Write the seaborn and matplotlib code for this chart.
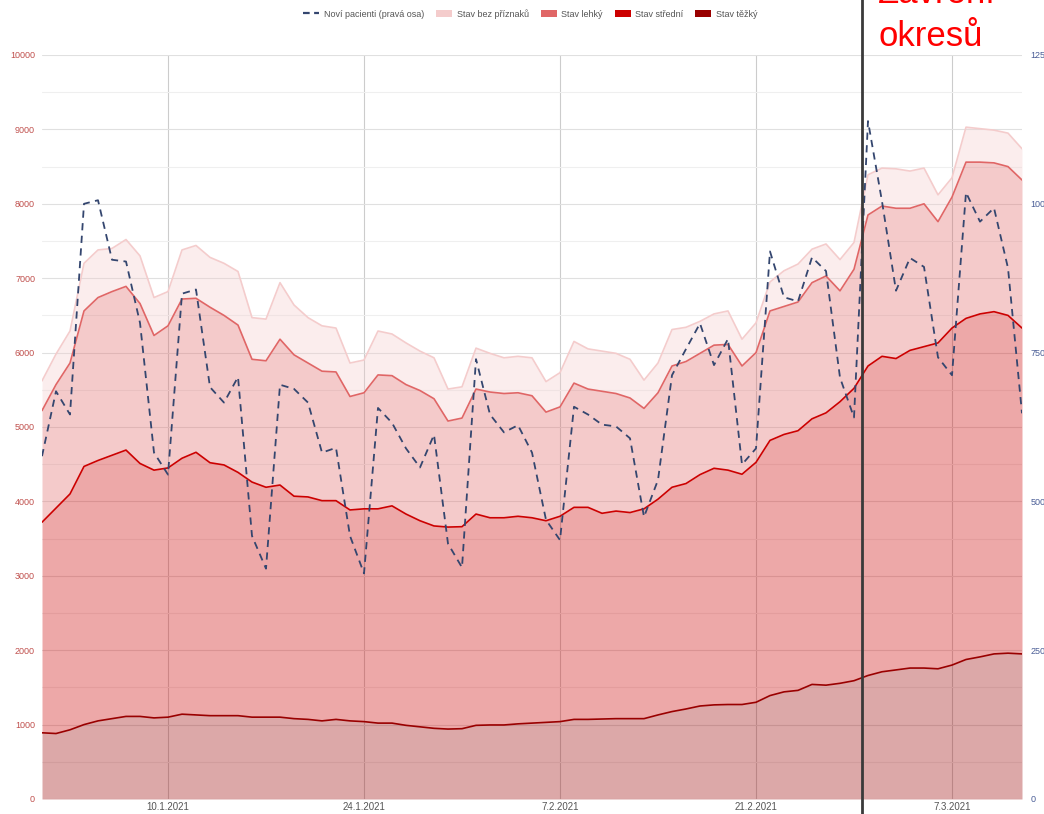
import numpy as np
import pandas as pd
import seaborn as sns
import matplotlib.pyplot as plt
from matplotlib.lines import Line2D
from matplotlib.patches import Patch

# daily values 1.1.2021 - 12.3.2021
dates = pd.date_range("2021-01-01", periods=71, freq="D")

tezky = [890, 880, 930, 1000, 1050, 1080, 1110, 1110, 1090, 1100,
         1140, 1130, 1120, 1120, 1120, 1100, 1100, 1100, 1080, 1070,
         1050, 1070, 1050, 1040, 1020, 1020, 990, 970, 950, 940,
         945, 990, 995, 995, 1010, 1020, 1030, 1040, 1070, 1070,
         1075, 1080, 1080, 1080, 1130, 1175, 1210, 1250, 1265, 1270,
         1270, 1300, 1390, 1440, 1460, 1540, 1530, 1555, 1590, 1660,
         1710, 1735, 1760, 1760, 1750, 1800, 1875, 1910, 1950, 1960,
         1950]
stredni = [2830, 3030, 3170, 3470, 3500, 3540, 3580, 3400, 3330, 3350,
           3440, 3530, 3400, 3370, 3270, 3160, 3090, 3120, 2990, 2990,
           2960, 2940, 2835, 2860, 2880, 2920, 2840, 2770, 2720, 2715,
           2715, 2840, 2785, 2785, 2790, 2760, 2710, 2760, 2850, 2850,
           2765, 2790, 2770, 2820, 2900, 3015, 3030, 3110, 3180, 3150,
           3095, 3225, 3430, 3460, 3490, 3570, 3660, 3785, 3930, 4160,
           4240, 4185, 4270, 4320, 4380, 4530, 4585, 4610, 4600, 4540,
           4380]
lehky = [1500, 1660, 1760, 2090, 2190, 2200, 2200, 2150, 1810, 1910,
         2140, 2070, 2090, 2010, 1980, 1650, 1700, 1960, 1900, 1800,
         1740, 1730, 1525, 1560, 1800, 1750, 1740, 1750, 1710, 1425,
         1460, 1680, 1690, 1670, 1660, 1640, 1460, 1470, 1670, 1590,
         1640, 1580, 1540, 1350, 1430, 1630, 1640, 1630, 1655, 1690,
         1455, 1475, 1740, 1720, 1730, 1830, 1840, 1490, 1600, 2030,
         2020, 2020, 1910, 1920, 1630, 1760, 2100, 2040, 2000, 2000,
         1990]
bez_priznaku = [400, 410, 430, 640, 640, 580, 630, 640, 510, 460,
                660, 710, 670, 700, 720, 560, 560, 760, 670, 610,
                610, 590, 450, 440, 590, 560, 560, 530, 550, 430,
                420, 550, 520, 480, 490, 510, 410, 460, 560, 540,
                540, 540, 520, 380, 400, 490, 460, 430, 420, 450,
                360, 400, 390, 480, 510, 450, 430, 420, 360, 540,
                510, 530, 500, 480, 360, 260, 470, 450, 440, 450,
                420]
novi_pacienti = [576, 685, 646, 1000, 1006, 906, 903, 800, 582, 545,
                 849, 856, 692, 666, 709, 442, 387, 696, 689, 666,
                 582, 590, 442, 379, 657, 632, 589, 557, 612, 429,
                 389, 739, 646, 616, 628, 582, 469, 435, 659, 646,
                 629, 626, 606, 474, 536, 712, 756, 799, 729, 773,
                 562, 589, 920, 843, 836, 910, 887, 708, 641, 1139,
                 1004, 854, 909, 894, 742, 712, 1019, 970, 993, 892,
                 648]

series_names = ["Stav těžký", "Stav střední", "Stav lehký", "Stav bez příznaků"]
series_colors = ["#990000", "#cc0000", "#e06666", "#f4cccc"]
tick_dates = pd.to_datetime(["2021-01-10", "2021-01-24", "2021-02-07", "2021-02-21", "2021-03-07"])
tick_labels = ["10.1.2021", "24.1.2021", "7.2.2021", "21.2.2021", "7.3.2021"]
left_ticks = list(range(0, 10001, 1000))
right_ticks = [0, 250, 500, 750, 1000, 1250]
zavreni_okresu = pd.Timestamp("2021-02-28 13:30")

sns.set_style("white")
plt.rcParams['font.family'] = ['Liberation Sans', 'DejaVu Sans']

fig = plt.figure(figsize=(10.44, 8.14), dpi=100)
ax = fig.add_axes([42 / 1044, 1 - 799 / 814, 980 / 1044, 744 / 814])

# stacked areas
bottom = np.zeros(len(dates))
for vals, col in zip([tezky, stredni, lehky, bez_priznaku], series_colors):
    top = bottom + np.array(vals)
    ax.fill_between(dates, bottom, top, color=col, alpha=0.34, lw=0, zorder=2)
    sns.lineplot(x=dates, y=top, color=col, lw=1.2, ax=ax, zorder=3)
    bottom = top

ax.set_xlim(dates[0], dates[-1])
ax.set_ylim(0, 10000)
ax.set_yticks(left_ticks)
ax.set_yticks(range(500, 10000, 1000), minor=True)
ax.set_yticklabels([str(v) for v in left_ticks], color="#c0504d", fontsize=6.5)
ax.set_xticks(tick_dates)
ax.set_xticklabels(tick_labels, color="#555555", fontsize=7)
ax.tick_params(axis="both", which="both", length=0)
ax.tick_params(axis="y", pad=5)
ax.tick_params(axis="x", pad=2)
ax.grid(axis="y", which="major", color="#e0e0e0", lw=0.8)
ax.grid(axis="y", which="minor", color="#efefef", lw=0.8)
ax.grid(axis="x", which="major", color="#cccccc", lw=0.8)
ax.set_axisbelow(True)
ax.set_xlabel("")
ax.set_ylabel("")
for s in ax.spines.values():
    s.set_visible(False)

# new patients on right axis
ax2 = ax.twinx()
sns.lineplot(x=dates, y=novi_pacienti, color="#34466f", lw=1.3, ax=ax2, zorder=4)
ax2.lines[-1].set_dashes([4, 3])
ax2.set_ylim(0, 1250)
ax2.set_yticks(right_ticks)
ax2.set_yticklabels([str(v) for v in right_ticks], color="#4a5d96", fontsize=6.5)
ax2.tick_params(axis="y", length=0, pad=6)
ax2.set_ylabel("")
for s in ax2.spines.values():
    s.set_visible(False)

# lockdown marker
ax2.axvline(zavreni_okresu, ymin=-0.03, ymax=1.1, color="#3a3a3a", lw=2, clip_on=False, zorder=5)
fig.text(878 / 1044, 1 - 3 / 814, "Zavření", color="#ff0000", fontsize=25, va="baseline")
fig.text(878 / 1044, 1 - 46 / 814, "okresů", color="#ff0000", fontsize=25, va="baseline")

handles = [Line2D([0], [0], color="#34466f", lw=1.6, dashes=[3, 2])]
labels = ["Noví pacienti (pravá osa)"]
for name, col in zip(series_names[::-1], series_colors[::-1]):
    handles.append(Patch(facecolor=col, edgecolor="none"))
    labels.append(name)
fig.legend(handles, labels, loc="center", bbox_to_anchor=(0.508, 1 - 14 / 814), ncol=5,
           frameon=False, fontsize=6.5, labelcolor="#555555", handlelength=1.8,
           handleheight=0.9, columnspacing=1.3, handletextpad=0.5)

fig.savefig("out.png", dpi=100)
